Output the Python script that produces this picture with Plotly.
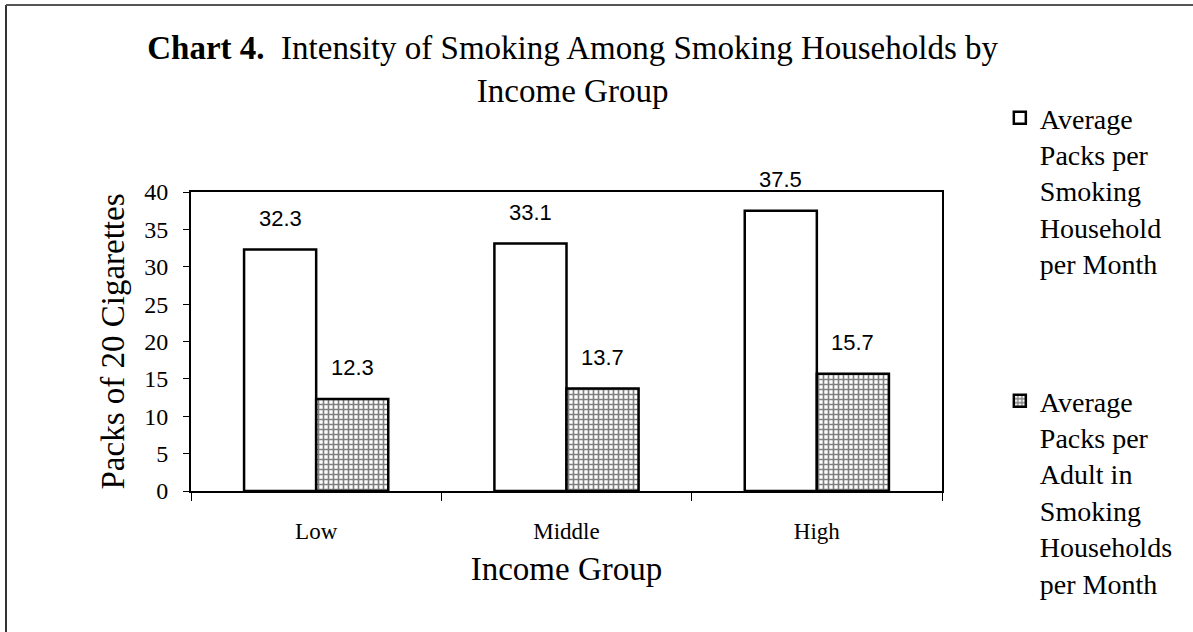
import plotly.graph_objects as go

categories = ["Low", "Middle", "High"]
household_packs = [32.3, 33.1, 37.5]
adult_packs = [12.3, 13.7, 15.7]
series_names = [
    "Average<br>Packs per<br>Smoking<br>Household<br>per Month",
    "Average<br>Packs per<br>Adult in<br>Smoking<br>Households<br>per Month",
]
y_ticks = [0, 5, 10, 15, 20, 25, 30, 35, 40]

SERIF = "Liberation Serif"
SANS = "Liberation Sans, Arial"

bargap = 0.424
bar_w = (1 - bargap) / 2

fig = go.Figure()
fig.add_trace(go.Bar(
    x=categories, y=household_packs, name=series_names[0], legendgroup="a",
    marker=dict(color="white", line=dict(color="black", width=2.5)),
))
fig.add_trace(go.Bar(
    x=categories, y=adult_packs, name=series_names[1], legendgroup="b",
    marker=dict(color="white", line=dict(color="black", width=2.5),
                pattern=dict(shape="+", size=5, solidity=0.55,
                             fgcolor="black", bgcolor="white")),
))

annotations = []
for i, v in enumerate(household_packs):
    annotations.append(dict(x=i - bar_w / 2, y=v, xref="x", yref="y", text=f"{v}",
                            showarrow=False, yanchor="bottom", yshift=17,
                            font=dict(family=SANS, size=22, color="black")))
for i, v in enumerate(adult_packs):
    annotations.append(dict(x=i + bar_w / 2, y=v, xref="x", yref="y", text=f"{v}",
                            showarrow=False, yanchor="bottom", yshift=17,
                            font=dict(family=SANS, size=22, color="black")))

fig.update_layout(
    width=1193, height=632,
    margin=dict(l=191, r=251, t=192, b=141),
    paper_bgcolor="white", plot_bgcolor="white",
    barmode="group", bargap=bargap, bargroupgap=0,
    title=dict(
        text="<b>Chart 4.</b>\u00a0 Intensity of Smoking Among Smoking Households by<br>Income Group",
        x=0.48, xref="container", xanchor="center",
        y=1 - 59 / 632, yref="container", yanchor="top",
        font=dict(family=SERIF, size=33, color="black"),
    ),
    xaxis=dict(
        type="category", showline=True, linecolor="black", linewidth=2, mirror=True,
        ticks="outside", tickson="boundaries", ticklen=8, tickcolor="black",
        ticklabelstandoff=18,
        tickfont=dict(family=SERIF, size=23, color="black"),
        title=dict(text="Income Group", font=dict(family=SERIF, size=33, color="black"),
                   standoff=14),
        showgrid=False,
    ),
    yaxis=dict(
        range=[0, 40], tickvals=y_ticks, showline=True, linecolor="black",
        linewidth=2, mirror=True, ticks="outside", ticklen=6, tickcolor="black",
        ticklabelstandoff=10,
        tickfont=dict(family=SERIF, size=24, color="black"),
        title=dict(text="Packs of 20 Cigarettes",
                   font=dict(family=SERIF, size=33, color="black"), standoff=10),
        showgrid=False, zeroline=False,
    ),
    legend=dict(
        x=1.077, xanchor="left", y=1.331, yanchor="top",
        valign="top", tracegroupgap=98, maxheight=900,
        font=dict(family=SERIF, size=28, color="black"),
        bgcolor="rgba(0,0,0,0)",
    ),
    annotations=annotations,
    shapes=[
        dict(type="line", xref="paper", yref="paper",
             x0=(6 - 191) / 751, x1=(6 - 191) / 751,
             y0=(491 - 632) / 299, y1=(491 - 5) / 299,
             line=dict(color="#333333", width=2)),
        dict(type="line", xref="paper", yref="paper",
             x0=(6 - 191) / 751, x1=(1193 - 191) / 751,
             y0=(491 - 5) / 299, y1=(491 - 5) / 299,
             line=dict(color="#555555", width=2)),
    ],
    showlegend=True,
)
fig.update_traces(cliponaxis=False)

fig.write_html("out.html")
